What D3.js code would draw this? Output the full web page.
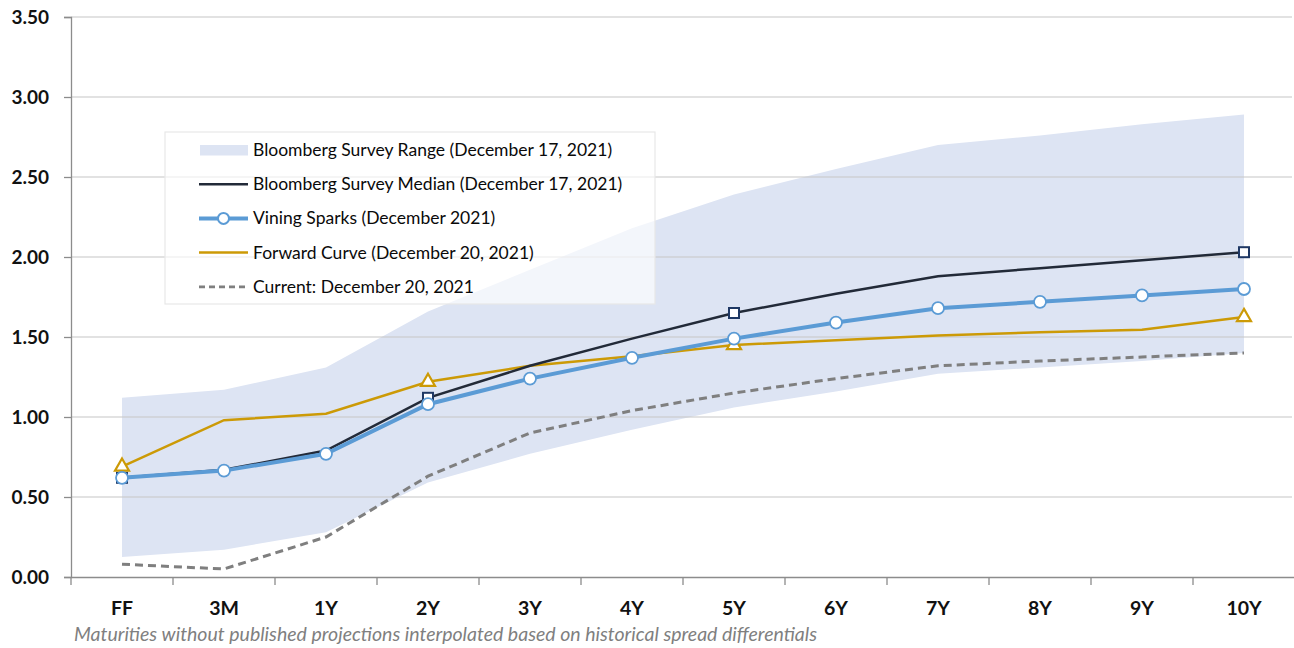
<!DOCTYPE html>
<html>
<head>
<meta charset="utf-8">
<script src="https://cdnjs.cloudflare.com/ajax/libs/d3/7.8.5/d3.min.js"></script>
<style>
  body { margin: 0; background: #fff; }
  text { font-family: Lato, "Open Sans", sans-serif; }
</style>
</head>
<body>
<div id="chart-area"></div>
<script>
var maturities = ['FF','3M','1Y','2Y','3Y','4Y','5Y','6Y','7Y','8Y','9Y','10Y'];
var rangeHigh = [1.12,1.17,1.31,1.66,1.92,2.18,2.39,2.55,2.70,2.76,2.83,2.89];
var rangeLow  = [0.125,0.17,0.28,0.59,0.77,0.92,1.06,1.16,1.27,1.31,1.35,1.40];
var median    = [0.62,0.67,0.79,1.12,1.32,1.49,1.65,1.77,1.88,1.93,1.98,2.03];
var vining    = [0.62,0.665,0.77,1.08,1.24,1.37,1.49,1.59,1.68,1.72,1.76,1.80];
var forward   = [0.69,0.98,1.02,1.22,1.32,1.38,1.45,1.48,1.51,1.53,1.545,1.625];
var current   = [0.08,0.05,0.25,0.63,0.90,1.04,1.15,1.24,1.32,1.35,1.375,1.40];
var markerAt  = ['FF','2Y','5Y','10Y'];
var yTicks    = [0,0.5,1,1.5,2,2.5,3,3.5];
var legendLabels = [
  'Bloomberg Survey Range (December 17, 2021)',
  'Bloomberg Survey Median (December 17, 2021)',
  'Vining Sparks (December 2021)',
  'Forward Curve (December 20, 2021)',
  'Current: December 20, 2021'
];
var footnote = 'Maturities without published projections interpolated based on historical spread differentials';

var W = 1294, H = 648;
var plotLeft = 71, plotRight = 1295, plotTop = 17, plotBottom = 577;

var svg = d3.select('#chart-area').append('svg')
    .attr('width', W)
    .attr('height', H);

//x scale
var x = d3.scaleBand()
    .domain(maturities)
    .range([plotLeft, plotRight])
    .padding(0);
function cx(d){ return x(d) + x.bandwidth()/2; }

//y scale
var y = d3.scaleLinear()
    .domain([0,3.5])
    .range([plotBottom, plotTop]);

var rows = maturities.map(function(m,i){
  return {m: m, hi: rangeHigh[i], lo: rangeLow[i], med: median[i],
          vin: vining[i], fwd: forward[i], cur: current[i]};
});

//survey range band
svg.append('path')
  .datum(rows)
  .attr('fill','#dde4f3')
  .attr('d', d3.area()
    .x(function(d){ return cx(d.m); })
    .y0(function(d){ return y(d.lo); })
    .y1(function(d){ return y(d.hi); }));

//gridlines
svg.append('g')
  .selectAll('line')
  .data(yTicks.slice(1))
  .enter().append('line')
    .attr('x1', plotLeft).attr('x2', plotRight - 3)
    .attr('y1', function(d){ return y(d); })
    .attr('y2', function(d){ return y(d); })
    .attr('stroke','#c8c8c8')
    .attr('stroke-opacity',0.7)
    .attr('stroke-width',1.3);

//y axis
var yAxis = svg.append('g')
  .attr('transform','translate('+plotLeft+',0)')
  .call(d3.axisLeft(y).tickValues(yTicks).tickFormat(d3.format('.2f')).tickSize(7).tickPadding(15));
yAxis.select('.domain').attr('stroke','#8c8c8c').attr('stroke-width',1.3);
yAxis.selectAll('.tick line').attr('stroke','#8c8c8c').attr('stroke-width',1.3);
yAxis.selectAll('.tick text')
  .attr('font-family','Lato, sans-serif')
  .attr('font-size','19px')
  .attr('font-weight','bold')
  .attr('fill','#111');

//x axis
var xAxis = svg.append('g')
  .attr('transform','translate(0,'+plotBottom+')')
  .call(d3.axisBottom(x).tickSize(0).tickPadding(24));
xAxis.select('.domain').attr('stroke','#8c8c8c').attr('stroke-width',1.3);
xAxis.selectAll('.tick text')
  .attr('font-family','Lato, sans-serif')
  .attr('font-size','19.5px')
  .attr('font-weight','bold')
  .attr('fill','#111');
//category boundary ticks
xAxis.selectAll('.bound')
  .data(maturities)
  .enter().append('line')
    .attr('class','bound')
    .attr('x1', function(d){ return x(d); })
    .attr('x2', function(d){ return x(d); })
    .attr('y1', 0).attr('y2', 8)
    .attr('stroke','#8c8c8c')
    .attr('stroke-width',1.3);

//legend
var legend = svg.append('g');
legend.append('rect')
  .attr('x',165).attr('y',132)
  .attr('width',490).attr('height',172)
  .attr('fill','#fff')
  .attr('fill-opacity',0.65)
  .attr('stroke','#e8e8e8')
  .attr('stroke-width',1.2);

legendLabels.forEach(function(label,i){
  var row = legend.append('g')
    .attr('transform','translate(199,'+(150+i*34.2)+')');
  if(i == 0){
    row.append('rect')
      .attr('x',1).attr('y',-5)
      .attr('width',48).attr('height',10.5)
      .attr('fill','#dde4f3');
  } else if(i == 1){
    row.append('line').attr('x1',0).attr('x2',49)
      .attr('stroke','#222a38').attr('stroke-width',2.5);
  } else if(i == 2){
    row.append('line').attr('x1',0).attr('x2',49)
      .attr('stroke','#5b9bd5').attr('stroke-width',4);
    row.append('circle').attr('cx',24.5).attr('r',5.5)
      .attr('fill','#fff').attr('stroke','#5b9bd5').attr('stroke-width',2);
  } else if(i == 3){
    row.append('line').attr('x1',0).attr('x2',49)
      .attr('stroke','#cc9a06').attr('stroke-width',2.5);
  } else {
    row.append('line').attr('x1',0).attr('x2',49)
      .attr('stroke','#7f7f7f').attr('stroke-width',2.8)
      .attr('stroke-dasharray','6,4');
  }
  row.append('text')
    .attr('x',54)
    .attr('y',6)
    .attr('font-size','17.5px')
    .attr('fill','#0a0a0a')
    .text(label);
});

function lineFor(key){
  return d3.line()
    .x(function(d){ return cx(d.m); })
    .y(function(d){ return y(d[key]); });
}

//current curve
svg.append('path').datum(rows)
  .attr('fill','none')
  .attr('stroke','#7f7f7f')
  .attr('stroke-width',3)
  .attr('stroke-dasharray','8,5')
  .attr('d', lineFor('cur'));

//forward curve
svg.append('path').datum(rows)
  .attr('fill','none')
  .attr('stroke','#cc9a06')
  .attr('stroke-width',2.5)
  .attr('d', lineFor('fwd'));

//survey median
svg.append('path').datum(rows)
  .attr('fill','none')
  .attr('stroke','#222a38')
  .attr('stroke-width',2.5)
  .attr('d', lineFor('med'));

//vining sparks
svg.append('path').datum(rows)
  .attr('fill','none')
  .attr('stroke','#5b9bd5')
  .attr('stroke-width',4)
  .attr('d', lineFor('vin'));

var marked = rows.filter(function(d){ return markerAt.indexOf(d.m) >= 0; });

//median squares
svg.selectAll('.sq')
  .data(marked)
  .enter().append('rect')
    .attr('class','sq')
    .attr('x', function(d){ return cx(d.m) - 5; })
    .attr('y', function(d){ return y(d.med) - 5; })
    .attr('width',10).attr('height',10)
    .attr('fill','#fff')
    .attr('stroke','#1f3864')
    .attr('stroke-width',2);

//forward triangles
svg.selectAll('.tri')
  .data(marked)
  .enter().append('path')
    .attr('class','tri')
    .attr('transform', function(d){ return 'translate('+cx(d.m)+','+y(d.fwd)+')'; })
    .attr('d', d3.symbol().type(d3.symbolTriangle).size(85))
    .attr('fill','#fff')
    .attr('stroke','#cc9a06')
    .attr('stroke-width',2.2);

//vining circles
svg.selectAll('.dot')
  .data(rows)
  .enter().append('circle')
    .attr('class','dot')
    .attr('cx', function(d){ return cx(d.m); })
    .attr('cy', function(d){ return y(d.vin); })
    .attr('r',6)
    .attr('fill','#fff')
    .attr('stroke','#5b9bd5')
    .attr('stroke-width',1.8);

//footnote
svg.append('text')
  .attr('x',74)
  .attr('y',641)
  .attr('font-size','19.5px')
  .attr('font-style','italic')
  .attr('fill','#7f7f7f')
  .text(footnote);
</script>
</body>
</html>
